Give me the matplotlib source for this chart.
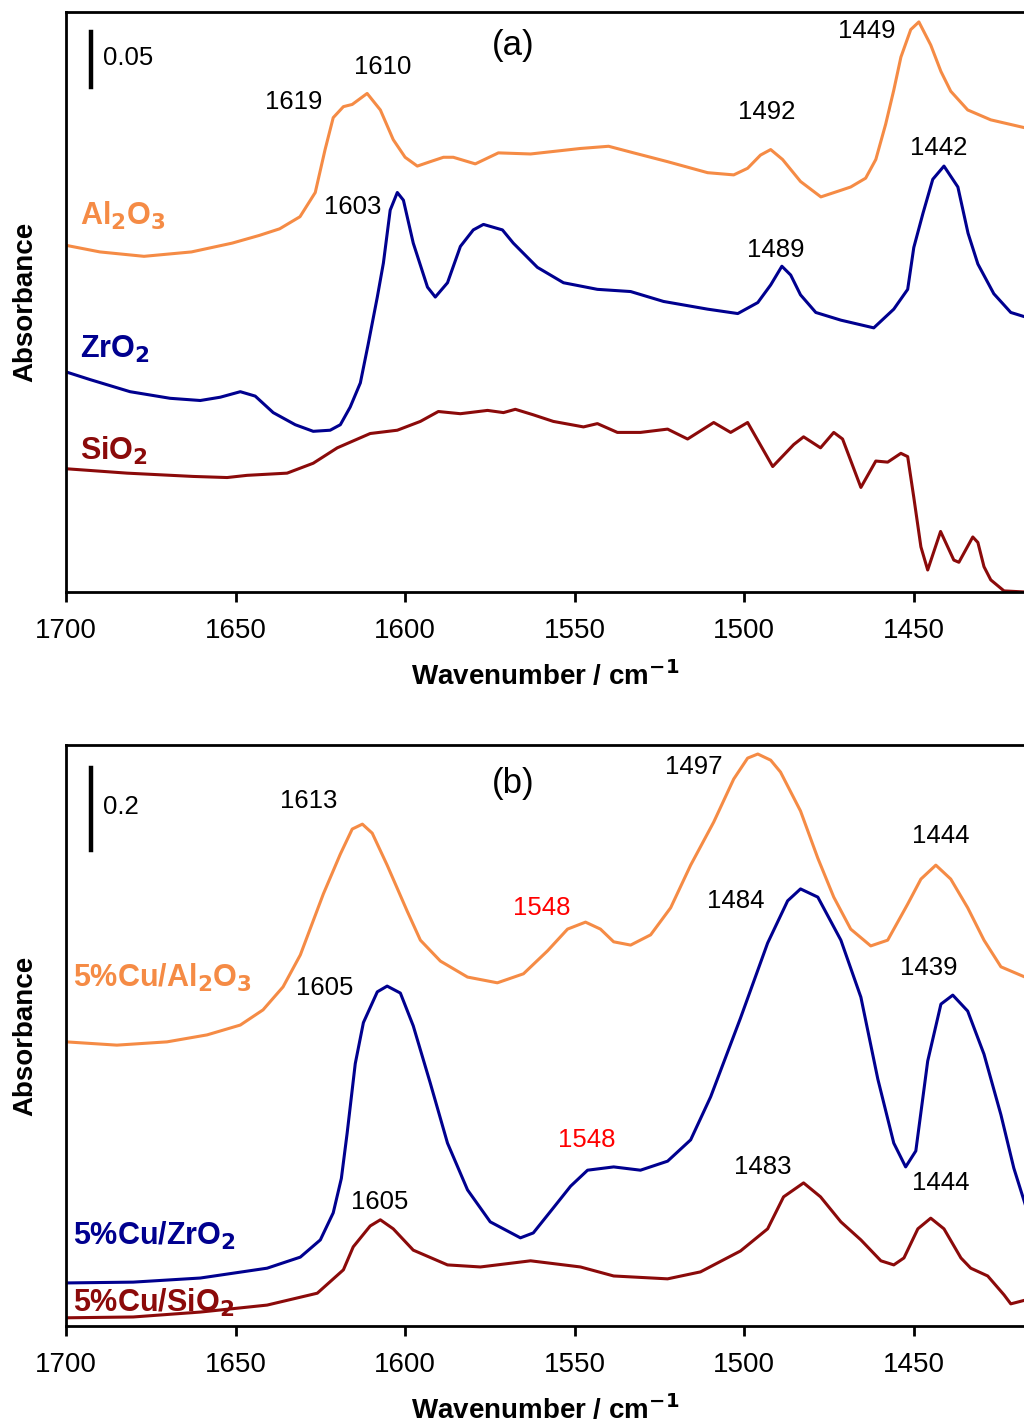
import matplotlib
matplotlib.use("Agg")
import matplotlib.pyplot as plt

plt.rcParams['font.family'] = ['Liberation Sans', 'DejaVu Sans']

# colours of the three supports
c_al = '#F58B45'
c_zr = '#00008F'
c_si = '#8B0A0A'

# ---- panel (a): bare supports ----
wn_al_a = [1700, 1690, 1677, 1663, 1651, 1643, 1637, 1631, 1626.5, 1623.6, 1621.2, 1618.2, 1615.6,
           1611.2, 1607.3, 1603.5, 1600, 1596.4, 1592.6, 1588.7, 1585.8, 1579.3, 1572.5, 1563,
           1548.3, 1540, 1532.6, 1522.6, 1510.8, 1503.1, 1499, 1495.2, 1492.2, 1488.7, 1483.4,
           1477.4, 1471.5, 1468.6, 1464.2, 1461.2, 1458.3, 1455.9, 1453.8, 1450.9, 1448.5, 1445,
           1442, 1439.1, 1434.1, 1427.3, 1417.5]
abs_al_a = [0.315, 0.309, 0.305, 0.309, 0.317, 0.324, 0.330, 0.341, 0.363, 0.402, 0.431, 0.441, 0.443,
            0.453, 0.438, 0.411, 0.395, 0.387, 0.391, 0.395, 0.395, 0.389, 0.399, 0.398,
            0.403, 0.405, 0.399, 0.391, 0.381, 0.379, 0.385, 0.397, 0.402, 0.393, 0.373,
            0.359, 0.365, 0.368, 0.376, 0.393, 0.425, 0.456, 0.486, 0.511, 0.518, 0.497,
            0.473, 0.455, 0.438, 0.429, 0.422]

wn_zr_a = [1700, 1692.9, 1681.1, 1669.3, 1660.4, 1654.5, 1648.6, 1644.2, 1638.9, 1632.4, 1627.1,
           1622.1, 1619.1, 1616.2, 1613.2, 1610.9, 1608.2, 1606.4, 1604.4, 1602.3, 1600.5, 1597.6,
           1593.4, 1591.1, 1587.5, 1583.7, 1579.9, 1576.9, 1571.3, 1568.1, 1561, 1553.3, 1543.3,
           1533.5, 1523.8, 1510.8, 1501.9, 1496, 1492.2, 1488.9, 1486.3, 1483.4, 1478.9, 1471.5,
           1461.8, 1455.9, 1451.8, 1450, 1447.3, 1444.4, 1441.1, 1437, 1434, 1431.1, 1426.4,
           1421.4, 1417.2]
abs_zr_a = [0.200, 0.193, 0.182, 0.176, 0.174, 0.177, 0.182, 0.178, 0.163, 0.152, 0.146,
            0.147, 0.152, 0.168, 0.190, 0.225, 0.268, 0.299, 0.347, 0.363, 0.356, 0.317,
            0.277, 0.268, 0.281, 0.314, 0.329, 0.334, 0.329, 0.317, 0.295, 0.281, 0.275,
            0.273, 0.264, 0.257, 0.253, 0.263, 0.279, 0.296, 0.288, 0.270, 0.254, 0.247,
            0.240, 0.257, 0.275, 0.313, 0.344, 0.375, 0.387, 0.368, 0.326, 0.298, 0.271,
            0.254, 0.250]

wn_si_a = [1700, 1682, 1662.5, 1652.5, 1646.6, 1634.8, 1627.1, 1620, 1610.3, 1602.3, 1595.5,
           1590.2, 1583.7, 1575.7, 1571, 1567.5, 1562.2, 1556.3, 1547.4, 1543.3, 1537.4, 1530.6,
           1522.6, 1516.7, 1509, 1504, 1499, 1491.6, 1485.4, 1482.5, 1477.5, 1473.6, 1471,
           1465.6, 1461.2, 1457.7, 1453.8, 1451.8, 1450, 1447.9, 1445.9, 1442.1, 1438.2, 1436.7,
           1432.6, 1431.1, 1429.3, 1427.3, 1423.4, 1417.2]
abs_si_a = [0.112, 0.108, 0.105, 0.104, 0.106, 0.108, 0.117, 0.131, 0.144, 0.147, 0.155,
            0.164, 0.162, 0.165, 0.163, 0.166, 0.161, 0.155, 0.150, 0.153, 0.145, 0.145,
            0.148, 0.139, 0.154, 0.145, 0.154, 0.114, 0.134, 0.141, 0.131, 0.145, 0.139,
            0.095, 0.119, 0.118, 0.126, 0.123, 0.086, 0.041, 0.020, 0.055, 0.029, 0.027,
            0.050, 0.045, 0.023, 0.011, 0.001, 0.0]

# ---- panel (b): 5%Cu catalysts ----
wn_al_b = [1700, 1685, 1670.2, 1658.4, 1648.6, 1641.9, 1636, 1630.9, 1624.1, 1619.1, 1615.6, 1612.6,
           1609.7, 1605.3, 1599.4, 1595.5, 1589.6, 1581.6, 1572.8, 1565.1, 1558, 1552.1, 1546.8,
           1542.4, 1538.5, 1533.5, 1527.6, 1521.7, 1515.8, 1509, 1503.1, 1499, 1496, 1492.2,
           1489.3, 1483.4, 1478.3, 1473.6, 1468.6, 1462.7, 1457.7, 1451.8, 1447.9, 1443.5,
           1439.1, 1434.1, 1429.3, 1424.3, 1417.2]
abs_al_b = [0.693, 0.685, 0.693, 0.710, 0.734, 0.771, 0.827, 0.905, 1.054, 1.151, 1.212, 1.224,
            1.202, 1.124, 1.012, 0.941, 0.890, 0.851, 0.837, 0.859, 0.915, 0.968, 0.985,
            0.968, 0.937, 0.929, 0.954, 1.020, 1.124, 1.229, 1.334, 1.385, 1.395, 1.380,
            1.351, 1.256, 1.141, 1.046, 0.968, 0.927, 0.941, 1.029, 1.090, 1.124,
            1.090, 1.020, 0.941, 0.876, 0.851]

wn_zr_b = [1700, 1680.2, 1660.4, 1640.7, 1630.9, 1625, 1621.2, 1618.8, 1617.1, 1614.7, 1612.3,
           1608.2, 1605.3, 1601.4, 1597.6, 1592.6, 1587.5, 1581.6, 1574.9, 1566, 1562.2, 1556.3,
           1551.2, 1546.2, 1538.5, 1530.6, 1522.6, 1515.8, 1509.9, 1501.1, 1493.1, 1487.2,
           1483.4, 1478.3, 1471.5, 1465.6, 1460.6, 1455.9, 1452.4, 1449.4, 1445.9, 1442,
           1438.5, 1434.1, 1429.3, 1424.3, 1420.5, 1417.2]
abs_zr_b = [0.105, 0.107, 0.117, 0.141, 0.168, 0.210, 0.276, 0.360, 0.470, 0.640, 0.740,
            0.815, 0.829, 0.812, 0.732, 0.593, 0.446, 0.332, 0.254, 0.215, 0.227, 0.288,
            0.341, 0.380, 0.388, 0.380, 0.402, 0.454, 0.559, 0.751, 0.934, 1.037,
            1.066, 1.046, 0.941, 0.802, 0.602, 0.446, 0.388, 0.427, 0.646, 0.785,
            0.807, 0.768, 0.663, 0.515, 0.385, 0.298]

wn_si_b = [1700, 1680.2, 1660.4, 1640.7, 1625.9, 1618.2, 1615.3, 1610.3, 1607.3, 1603.5, 1597.6,
           1587.5, 1577.8, 1563, 1548.3, 1538.5, 1522.6, 1512.9, 1501.1, 1493.1, 1488.4, 1482.5,
           1477.5, 1471.5, 1465.6, 1459.7, 1455.9, 1452.9, 1448.8, 1445, 1441.1, 1436.1,
           1433.2, 1428.2, 1423.4, 1421.4, 1417.2]
abs_si_b = [0.020, 0.022, 0.034, 0.051, 0.080, 0.137, 0.193, 0.244, 0.259, 0.237, 0.185,
            0.149, 0.144, 0.159, 0.144, 0.122, 0.115, 0.132, 0.183, 0.237, 0.315, 0.349,
            0.315, 0.254, 0.210, 0.159, 0.149, 0.166, 0.237, 0.263, 0.237, 0.166,
            0.141, 0.122, 0.076, 0.054, 0.063]

# peak labels: (text, wavenumber, absorbance, colour)
peaks_a = [('1619', 1633, 0.445, 'black'), ('1610', 1606.7, 0.477, 'black'),
           ('1603', 1615.6, 0.350, 'black'), ('1492', 1493.4, 0.436, 'black'),
           ('1489', 1490.7, 0.311, 'black'), ('1449', 1463.9, 0.510, 'black'),
           ('1442', 1442.6, 0.403, 'black')]
peaks_b = [('1613', 1628.3, 1.280, 'black'), ('1497', 1514.9, 1.363, 'black'),
           ('1548', 1559.8, 1.020, 'red'), ('1484', 1502.5, 1.037, 'black'),
           ('1444', 1442, 1.195, 'black'), ('1605', 1623.8, 0.824, 'black'),
           ('1439', 1445.6, 0.873, 'black'), ('1548', 1546.5, 0.454, 'red'),
           ('1483', 1494.6, 0.388, 'black'), ('1605', 1607.6, 0.302, 'black'),
           ('1444', 1442, 0.349, 'black')]

fig = plt.figure(figsize=(10.24, 14.24), dpi=100)
ax_a = fig.add_axes([66 / 1024, 1 - 592 / 1424, 958 / 1024, 580 / 1424])
ax_b = fig.add_axes([66 / 1024, 1 - 1326 / 1424, 958 / 1024, 581 / 1424])

panels = [
    (ax_a, [(wn_al_a, abs_al_a, c_al), (wn_zr_a, abs_zr_a, c_zr), (wn_si_a, abs_si_a, c_si)],
     peaks_a, 0.527, '(a)', 0.497, 0.05, 0.485),
    (ax_b, [(wn_al_b, abs_al_b, c_al), (wn_zr_b, abs_zr_b, c_zr), (wn_si_b, abs_si_b, c_si)],
     peaks_b, 1.417, '(b)', 1.324, 0.2, 1.266),
]

for ax, curves, peaks, ytop, tag, tag_y, bar, bar_y in panels:
    for wn, ab, col in curves:
        ax.plot(wn, ab, color=col, lw=2.2, solid_joinstyle='round')
    for txt, x, y, col in peaks:
        ax.text(x, y, txt, color=col, fontsize=18.5, ha='center', va='center')
    ax.text(1568, tag_y, tag, fontsize=25, ha='center', va='center')
    # scale bar
    ax.plot([1692.5, 1692.5], [bar_y - bar / 2 - 0.003 * ytop, bar_y + bar / 2 - 0.003 * ytop],
            color='black', lw=3.2)
    ax.text(1689.0, bar_y, str(bar), fontsize=18.5, ha='left', va='center')

    ax.set_xlim(1700, 1417.5)
    ax.set_ylim(0, ytop)
    ax.set_xticks([1700, 1650, 1600, 1550, 1500, 1450])
    ax.set_yticks([])
    ax.tick_params(axis='x', direction='out', length=7, width=2, labelsize=20, pad=12)
    for s in ['left', 'bottom', 'top']:
        ax.spines[s].set_linewidth(2)
    ax.spines['right'].set_visible(False)
    ax.set_xlabel('Wavenumber / cm$^{\\mathbf{-1}}$', fontsize=20, fontweight='bold', labelpad=11)
    ax.set_ylabel('Absorbance', fontsize=20, fontweight='bold', labelpad=20)

# sample labels
lab_kw = dict(fontsize=22, fontweight='bold', ha='left', va='center')
ax_a.text(1696, 0.342, 'Al$_\\mathbf{2}$O$_\\mathbf{3}$', color=c_al, **lab_kw)
ax_a.text(1696, 0.220, 'ZrO$_\\mathbf{2}$', color=c_zr, **lab_kw)
ax_a.text(1696, 0.128, 'SiO$_\\mathbf{2}$', color=c_si, **lab_kw)
ax_b.text(1698, 0.850, '5%Cu/Al$_\\mathbf{2}$O$_\\mathbf{3}$', color=c_al, **lab_kw)
ax_b.text(1698, 0.220, '5%Cu/ZrO$_\\mathbf{2}$', color=c_zr, **lab_kw)
ax_b.text(1698, 0.056, '5%Cu/SiO$_\\mathbf{2}$', color=c_si, **lab_kw)

fig.savefig('out.png', dpi=100)
